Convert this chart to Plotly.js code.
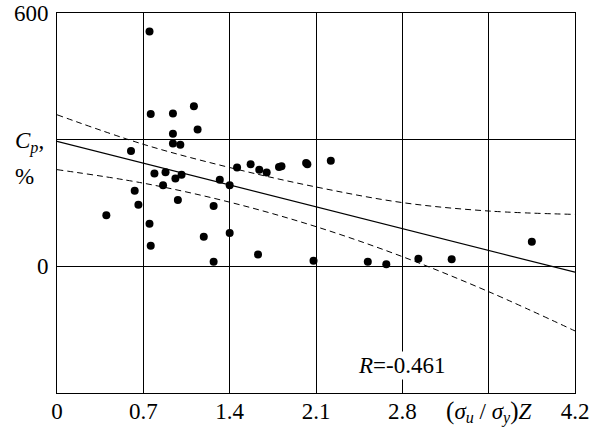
<!DOCTYPE html>
<html>
<head>
<meta charset="utf-8">
<script src="https://cdn.plot.ly/plotly-3.0.1.min.js"></script>
<style>html,body{margin:0;padding:0;background:#fff;}#chart{width:600px;height:427px;}</style>
</head>
<body>
<div id="chart"></div>
<script>
// Scatter data: x = (σu/σy)Z, y = Cp, %
var pointsX = [0.75, 0.76, 0.94, 1.11, 1.14, 0.94, 0.94, 1.00, 0.60, 0.79, 0.88, 0.96, 1.01, 0.86, 0.63,
               0.66, 0.98, 1.32, 1.40, 1.46, 1.27, 0.40, 0.75, 1.19, 1.40, 0.76, 1.27, 1.57, 1.64, 1.70,
               1.80, 1.82, 2.02, 2.03, 2.22, 1.63, 2.08, 2.52, 2.67, 2.93, 3.20, 3.85];
var pointsY = [556, 361, 362, 379, 324, 314, 291, 288, 273, 220, 223, 208, 217, 192, 179,
               146, 157, 205, 192, 234, 143, 121, 101, 70, 79, 49, 11, 242, 229, 222,
               235, 237, 245, 242, 250, 28, 13, 11, 5, 18, 17, 58];

// Regression line endpoints
var fitX = [0, 4.2];
var fitY = [296, -14];

// Confidence band (dashed) read at gridline positions
var bandX = [0, 0.7, 1.4, 2.1, 2.8, 3.5, 4.2];
var upperY = [359, 289, 234, 188, 151, 131, 123];
var lowerY = [229, 197, 152, 94, 23, -60, -153];

// Axis ticks
var xTickVals = [0, 0.7, 1.4, 2.1, 2.8, 3.5, 4.2];
var xTickText = ["0", "0.7", "1.4", "2.1", "2.8",
  "<span style='font-size:25px'>(</span><i>σ</i><sub><i>u</i></sub> / <i>σ</i><sub><i>y</i></sub><span style='font-size:25px'>)</span><i>Z</i>", "4.2"];
var yTickVals = [-300, 0, 300, 600];
var yTickText = ["", "0", "", "600"];

var corrLabel = "<i>R</i>=-0.461";

var FONT = "'Liberation Serif', 'Times New Roman', Times, serif";
var FS = 23;

var traces = [
  {x: bandX, y: upperY, type: "scatter", mode: "lines",
   line: {color: "#000", width: 1, dash: "6px,4px", shape: "spline"}, hoverinfo: "skip"},
  {x: bandX, y: lowerY, type: "scatter", mode: "lines",
   line: {color: "#000", width: 1, dash: "6px,4px", shape: "spline"}, hoverinfo: "skip"},
  {x: fitX, y: fitY, type: "scatter", mode: "lines",
   line: {color: "#000", width: 1.2}, hoverinfo: "skip"},
  {x: pointsX, y: pointsY, type: "scatter", mode: "markers",
   marker: {color: "#000", size: 8, symbol: "circle"}}
];

var layout = {
  width: 600, height: 427,
  margin: {l: 57, r: 25, t: 13, b: 34, pad: 0},
  paper_bgcolor: "#fff", plot_bgcolor: "#fff",
  showlegend: false,
  font: {family: FONT, size: FS, color: "#000"},
  xaxis: {
    range: [0, 4.2], tickmode: "array", tickvals: xTickVals, ticktext: xTickText,
    showgrid: true, gridcolor: "#000", gridwidth: 1,
    showline: true, linecolor: "#000", linewidth: 1, mirror: true,
    zeroline: false, ticks: "", ticklabelstandoff: -3,
    tickfont: {family: FONT, size: FS, color: "#000"}
  },
  yaxis: {
    range: [-300, 600], tickmode: "array", tickvals: yTickVals, ticktext: yTickText,
    showgrid: true, gridcolor: "#000", gridwidth: 1,
    showline: true, linecolor: "#000", linewidth: 1, mirror: true,
    zeroline: false, ticks: "", ticklabelstandoff: 3,
    tickfont: {family: FONT, size: FS, color: "#000"}
  },
  annotations: [
    {text: corrLabel, x: 2.795, y: -236, xref: "x", yref: "y", showarrow: false,
     bgcolor: "#fff", borderpad: 1, font: {family: FONT, size: FS, color: "#000"}},
    {text: "<i>C</i><sub><i>p</i></sub>,", x: -0.085, y: 293, xref: "paper", yref: "y",
     xanchor: "left", showarrow: false, font: {family: FONT, size: FS, color: "#000"}},
    {text: "%", x: -0.085, y: 213, xref: "paper", yref: "y",
     xanchor: "left", showarrow: false, font: {family: FONT, size: FS, color: "#000"}}
  ]
};

Plotly.newPlot("chart", traces, layout, {staticPlot: true, displayModeBar: false});
</script>
</body>
</html>
